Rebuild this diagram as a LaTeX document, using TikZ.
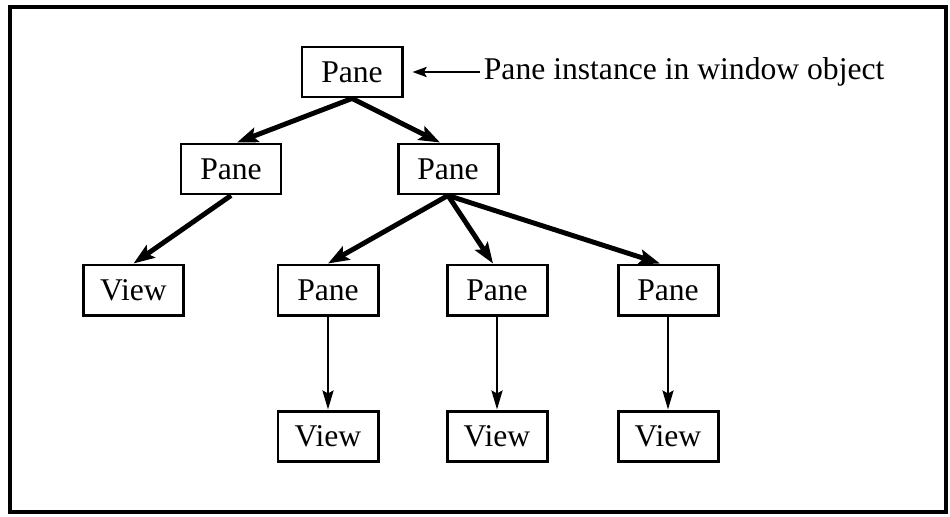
\documentclass[tikz,border=0pt]{standalone}
\usepackage{fontspec}
\setmainfont{Liberation Serif}
\usepackage{tikz}
\usetikzlibrary{arrows.meta,shapes,positioning}
\tikzstyle{panebox} = [draw, line width=1.7pt, minimum width=2cm, minimum height=1cm, inner sep=0pt, font=\fontsize{18}{21}\selectfont]
\tikzstyle{treearrow} = [line width=2.8pt,-{Stealth[length=0.42cm,width=0.3cm,inset=0.08cm]}]
\tikzstyle{downarrow} = [line width=1.4pt,-{Stealth[length=0.38cm,width=0.22cm,inset=0.06cm]}]

\begin{document}
\begin{tikzpicture}
    \useasboundingbox (0,0) rectangle (19,10.32);
    % Frame
    \draw[line width=2.8pt] (0.2,0.08) rectangle (18.92,10.18);

    % Nodes
    \node[panebox] (root) at (7.04,8.88) {Pane};
    \node[panebox] (paneL) at (4.62,6.94) {Pane};
    \node[panebox] (paneR) at (8.96,6.94) {Pane};
    \node[panebox] (viewL) at (2.67,4.52) {View};
    \node[panebox] (paneA) at (6.56,4.52) {Pane};
    \node[panebox] (paneB) at (9.94,4.52) {Pane};
    \node[panebox] (paneC) at (13.36,4.52) {Pane};
    \node[panebox] (viewA) at (6.56,1.6) {View};
    \node[panebox] (viewB) at (9.94,1.6) {View};
    \node[panebox] (viewC) at (13.36,1.6) {View};

    % Label
    \node[anchor=west, inner sep=2pt, font=\fontsize{18}{21}\selectfont] (note) at (9.6,8.88) {Pane instance in window object};
    \draw[line width=1.4pt,-{Stealth[length=0.28cm,width=0.2cm,inset=0.05cm]},shorten >=0.18cm] (note.west) -- (root.east);

    % Tree arrows
    \draw[treearrow] (root.south) -- ([xshift=0.12cm]paneL.north);
    \draw[treearrow] (root.south) -- ([xshift=-0.16cm]paneR.north);
    \draw[treearrow] (paneL.south) -- (viewL.north);
    \draw[treearrow] (paneR.south) -- (paneA.north);
    \draw[treearrow] (paneR.south) -- ([xshift=-0.08cm]paneB.north);
    \draw[treearrow] (paneR.south) -- ([xshift=-0.16cm]paneC.north);

    % Pane to view
    \draw[downarrow] (paneA) -- (viewA);
    \draw[downarrow] (paneB) -- (viewB);
    \draw[downarrow] (paneC) -- (viewC);
\end{tikzpicture}
\end{document}
